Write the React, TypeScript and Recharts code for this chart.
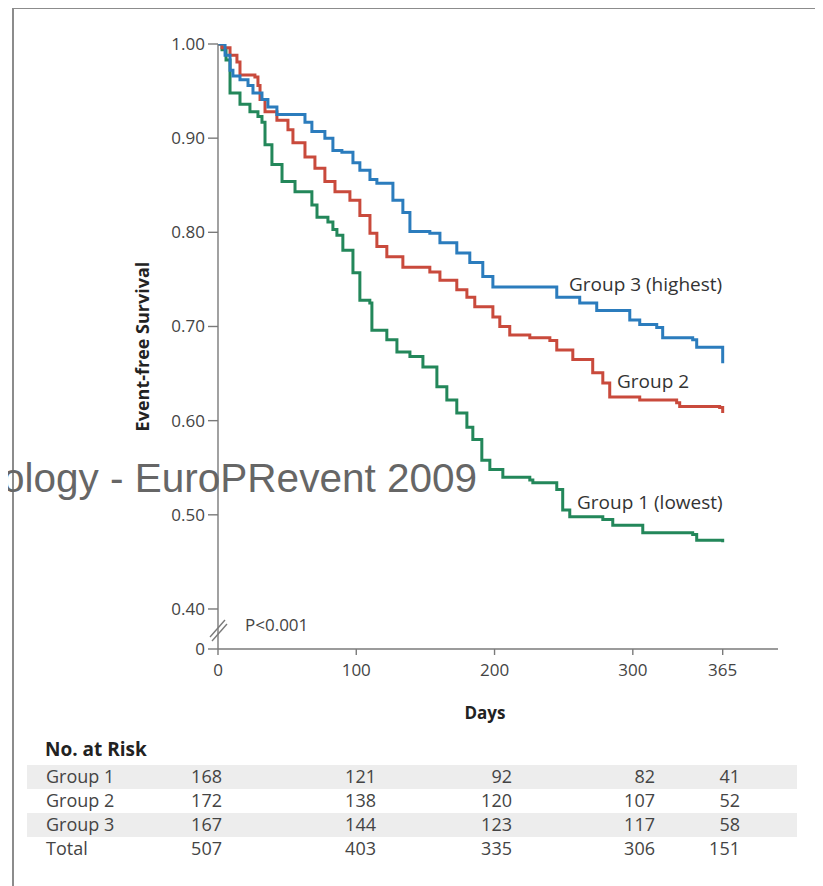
import { LineChart, Line, XAxis, YAxis } from 'recharts'

// Kaplan-Meier steps (day of step, survival after step)
const GROUP1_DAYS = [0, 2.9, 5.8, 8.7, 15.9, 23.1, 28.9, 31.8, 34.0, 39.0, 46.3, 55.7, 67.9, 71.6, 79.5, 83.1, 86.0, 90.3, 97.6, 102.6, 109.8, 111.3, 122.1, 129.4, 138.8, 148.2, 158.3, 165.5, 172.7, 180.0, 184.3, 190.8, 196.6, 206.0, 225.5, 227.7, 245.0, 249.3, 254.4, 278.3, 285.5, 307.2, 343.3, 346.2, 365]
const GROUP1_SURV = [1.0, 0.994, 0.983, 0.948, 0.936, 0.928, 0.923, 0.917, 0.893, 0.872, 0.854, 0.843, 0.829, 0.816, 0.811, 0.803, 0.797, 0.781, 0.757, 0.728, 0.725, 0.696, 0.686, 0.673, 0.668, 0.657, 0.636, 0.622, 0.608, 0.593, 0.58, 0.558, 0.548, 0.54, 0.537, 0.534, 0.527, 0.505, 0.498, 0.495, 0.489, 0.481, 0.479, 0.473, 0.471]

const GROUP2_DAYS = [0, 2.9, 8.7, 13.7, 15.9, 26.7, 28.9, 30.4, 34.0, 42.6, 50.6, 54.2, 62.9, 70.1, 77.3, 84.6, 95.4, 102.6, 109.9, 114.9, 122.1, 133.7, 153.2, 160.5, 172.7, 180.0, 185.7, 198.8, 203.8, 211.0, 225.5, 240.0, 245.0, 256.6, 271.0, 278.3, 283.3, 305.0, 331.7, 333.9, 362.8, 365]
const GROUP2_SURV = [1.0, 0.996, 0.988, 0.981, 0.967, 0.965, 0.956, 0.941, 0.928, 0.919, 0.909, 0.895, 0.88, 0.868, 0.854, 0.843, 0.834, 0.818, 0.799, 0.785, 0.774, 0.763, 0.758, 0.749, 0.739, 0.731, 0.721, 0.71, 0.7, 0.691, 0.688, 0.685, 0.675, 0.665, 0.651, 0.64, 0.625, 0.622, 0.619, 0.615, 0.614, 0.608]

const GROUP3_DAYS = [0, 5.1, 8.7, 10.8, 15.9, 21.7, 25.3, 31.8, 36.1, 42.6, 62.9, 67.9, 77.3, 83.1, 89.6, 97.6, 102.6, 109.9, 114.9, 126.5, 133.7, 138.8, 153.2, 160.5, 172.7, 182.1, 191.5, 198.8, 245.0, 261.6, 273.9, 297.8, 305.0, 317.3, 321.6, 343.3, 346.2, 365]
const GROUP3_SURV = [1.0, 0.988, 0.972, 0.966, 0.962, 0.956, 0.948, 0.941, 0.933, 0.925, 0.917, 0.907, 0.9, 0.887, 0.885, 0.874, 0.866, 0.856, 0.852, 0.834, 0.821, 0.801, 0.799, 0.789, 0.778, 0.768, 0.753, 0.742, 0.731, 0.725, 0.717, 0.707, 0.702, 0.699, 0.688, 0.686, 0.678, 0.661]

const DAY_TICKS = [0, 100, 200, 300, 365]
const Y_BREAK = 0.3575 // bottom of the broken axis, shown as "0"
const Y_TICKS = [Y_BREAK, 0.4, 0.5, 0.6, 0.7, 0.8, 0.9, 1.0]

const RISK_ROWS = ['Group 1', 'Group 2', 'Group 3', 'Total']
const RISK_GROUP1 = [168, 121, 92, 82, 41]
const RISK_GROUP2 = [172, 138, 120, 107, 52]
const RISK_GROUP3 = [167, 144, 123, 117, 58]
const RISK_TOTAL = [507, 403, 335, 306, 151]

const COLORS = { g1: '#23875a', g2: '#c94a3c', g3: '#2b7cbd' }
const FONT = "'Open Sans', Lato, sans-serif"
const AXIS = '#7a7a7a'
const TEXT = '#444'

const toSeries = (days: number[], surv: number[]) => days.map((d, i) => ({ day: d, surv: surv[i] }))
const g1 = toSeries(GROUP1_DAYS, GROUP1_SURV)
const g2 = toSeries(GROUP2_DAYS, GROUP2_SURV)
const g3 = toSeries(GROUP3_DAYS, GROUP3_SURV)

function YTick(props: any) {
  const { x, y, payload } = props
  const isZero = payload.value < 0.39
  const ax = x + 13
  return (
    <g>
      <text x={x} y={y} dy={6} textAnchor="end" fill={TEXT} fontSize={17} fontFamily={FONT}>
        {isZero ? '0' : payload.value.toFixed(2)}
      </text>
      {isZero && (
        <g stroke={AXIS} strokeWidth={1.4}>
          <line x1={ax - 8} y1={y - 12} x2={ax + 7} y2={y - 29} />
          <line x1={ax - 6} y1={y - 8} x2={ax + 9} y2={y - 25} />
        </g>
      )}
    </g>
  )
}

const colRight = [222, 376, 512, 655, 740]

export default function App() {
  const riskData = [RISK_GROUP1, RISK_GROUP2, RISK_GROUP3, RISK_TOTAL]
  return (
    <div style={{ position: 'relative', width: 823, height: 886, margin: '-8px 0 0 -8px', overflow: 'hidden', background: '#fff', fontFamily: FONT }}>
      <div style={{ position: 'absolute', left: 12, top: 7, width: 806, height: 900, border: '2px solid #8c8c8c' }} />
      <div style={{ position: 'absolute', left: 0, top: 0 }}>
        <LineChart width={823} height={740} margin={{ top: 44, right: 45, left: 128, bottom: 21 }}>
          <XAxis
            type="number"
            dataKey="day"
            domain={[0, 405]}
            ticks={DAY_TICKS}
            allowDataOverflow
            stroke={AXIS}
            strokeWidth={1.4}
            tickSize={6}
            tickMargin={9}
            height={70}
            tick={{ fill: TEXT, fontSize: 17, fontFamily: FONT }}
            label={{ value: 'Days', position: 'insideBottom', offset: 0, dx: -13, style: { fill: '#222', fontSize: 17, fontWeight: 700, fontFamily: FONT } }}
          />
          <YAxis
            type="number"
            dataKey="surv"
            domain={[Y_BREAK, 1]}
            ticks={Y_TICKS}
            allowDataOverflow
            width={90}
            stroke={AXIS}
            strokeWidth={1.4}
            tickSize={10}
            tickMargin={3}
            tick={<YTick />}
            label={{ value: 'Event-free Survival', angle: -90, position: 'insideLeft', offset: 15, style: { textAnchor: 'middle', fill: '#222', fontSize: 18, fontWeight: 700, fontFamily: FONT } }}
          />
          <Line data={g1} dataKey="surv" type="stepAfter" stroke={COLORS.g1} strokeWidth={3} dot={false} isAnimationActive={false} />
          <Line data={g2} dataKey="surv" type="stepAfter" stroke={COLORS.g2} strokeWidth={3} dot={false} isAnimationActive={false} />
          <Line data={g3} dataKey="surv" type="stepAfter" stroke={COLORS.g3} strokeWidth={3} dot={false} isAnimationActive={false} />
        </LineChart>
      </div>

      {/* curve annotations */}
      <div style={{ position: 'absolute', left: 569, top: 271, fontSize: 19, color: '#333' }}>Group 3 (highest)</div>
      <div style={{ position: 'absolute', left: 617, top: 368, fontSize: 19, color: '#333' }}>Group 2</div>
      <div style={{ position: 'absolute', left: 577, top: 489, fontSize: 19, color: '#333' }}>Group 1 (lowest)</div>
      <div style={{ position: 'absolute', left: 245, top: 613, fontSize: 17, color: TEXT }}>P&lt;0.001</div>

      {/* number at risk table */}
      <div style={{ position: 'absolute', left: 45, top: 736, fontSize: 19, fontWeight: 700, color: '#222' }}>No. at Risk</div>
      {RISK_ROWS.map((row, r) => (
        <div key={row}>
          {r % 2 === 0 && (
            <div style={{ position: 'absolute', left: 27, top: 765 + r * 24, width: 770, height: 24, background: '#ededed' }} />
          )}
          <div style={{ position: 'absolute', left: 46, top: 764 + r * 24, fontSize: 18, color: TEXT }}>{row}</div>
          {riskData[r].map((v, c) => (
            <div key={c} style={{ position: 'absolute', left: colRight[c] - 60, width: 60, textAlign: 'right', top: 764 + r * 24, fontSize: 18, color: TEXT }}>{v}</div>
          ))}
        </div>
      ))}

      {/* overlaid watermark text */}
      <div style={{ position: 'absolute', left: 2, top: 454, fontSize: 40.5, lineHeight: '48px', color: '#666', fontFamily: "'Liberation Sans', Arial, sans-serif", whiteSpace: 'nowrap' }}>
        ology - EuroPRevent 2009
      </div>
    </div>
  )
}
